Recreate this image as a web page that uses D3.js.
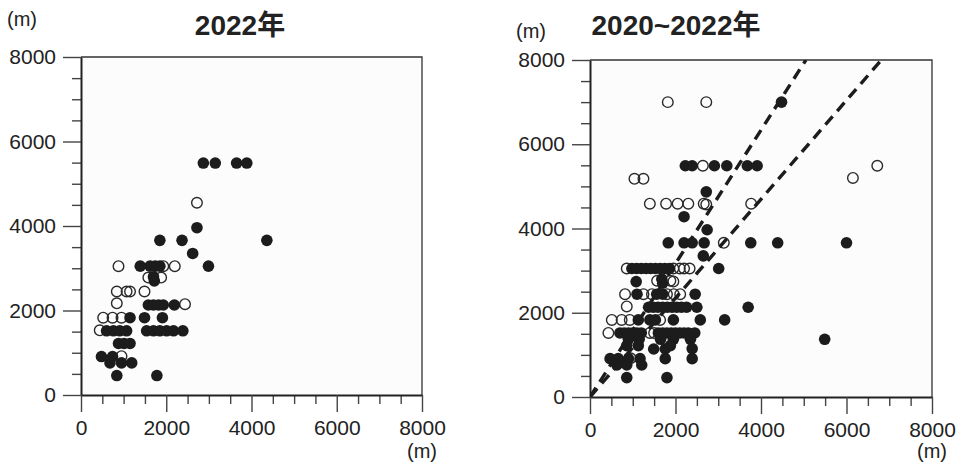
<!DOCTYPE html>
<html lang="ja">
<head>
<meta charset="UTF-8">
<title>2022年 / 2020~2022年</title>
<script src="https://d3js.org/d3.v7.min.js"></script>
<style>
  body { margin: 0; background: #fff; }
  svg text { font-family: "Liberation Sans", Arial, "Noto Sans CJK JP", sans-serif; fill: #222; }
  .title { font-weight: bold; font-size: 28px; }
  .tick text { font-size: 21px; fill: #222; }
  .unit { font-size: 20px; }
</style>
</head>
<body>
<svg id="chart" width="960" height="467"></svg>
<script>
// axis values
const xTicks = [0, 2000, 4000, 6000, 8000];
const yTicks = [0, 2000, 4000, 6000, 8000];
const minorTicks = d3.range(0, 8001, 500).filter(v => v % 2000 !== 0);
const unitLabel = "(m)";
const titles = ["2022年", "2020~2022年"];

// 2022 only : [x, y]
const leftFilled = [
  [2870, 5490], [3150, 5490], [3650, 5490], [3890, 5490],
  [2720, 3960],
  [1850, 3660], [2370, 3660], [4360, 3660],
  [2620, 3350],
  [1390, 3050], [1620, 3050], [1740, 3050], [1850, 3050], [2990, 3050],
  [1700, 2800], [1720, 2700],
  [1580, 2130], [1700, 2130], [1820, 2130], [1930, 2130], [2190, 2130],
  [1150, 1830], [1490, 1830], [1910, 1830],
  [600, 1520], [760, 1520], [910, 1520], [1070, 1520], [1540, 1520], [1700, 1520],
  [1850, 1520], [2010, 1520], [2170, 1520], [2390, 1520],
  [880, 1220], [1010, 1220], [1150, 1220],
  [480, 910], [740, 910],
  [680, 760], [950, 760], [1190, 760],
  [840, 460], [1780, 460]
];
const leftOpen = [
  [2720, 4550],
  [880, 3050], [1930, 3050], [2200, 3050],
  [1580, 2780], [1880, 2780],
  [840, 2450], [1070, 2450], [1150, 2450], [1490, 2450],
  [840, 2170], [2440, 2150],
  [520, 1830], [740, 1830], [950, 1830],
  [440, 1530],
  [950, 920]
];

// 2020~2022
const rightFilled = [
  [4480, 7000],
  [2230, 5490], [2390, 5490], [2910, 5490], [3200, 5490], [3680, 5490], [3910, 5490],
  [2720, 4870],
  [2200, 4280],
  [2740, 3970],
  [1830, 3660], [2200, 3660], [2390, 3660], [2670, 3660], [3760, 3660], [4390, 3660], [6000, 3660],
  [2650, 3350],
  [980, 3050], [1090, 3050], [1200, 3050], [1310, 3050], [1420, 3050], [1530, 3050],
  [1640, 3050], [1750, 3050], [1860, 3050], [3010, 3050],
  [1080, 2740], [1680, 2800], [1700, 2700],
  [1100, 2440], [1560, 2440], [1700, 2440], [2460, 2440],
  [1370, 2130], [1480, 2130], [1590, 2130], [1700, 2130], [1810, 2130], [1920, 2130],
  [2030, 2130], [2140, 2130], [2260, 2130], [2500, 2130], [3700, 2130],
  [1130, 1830], [1400, 1830], [1530, 1830], [1950, 1830], [2580, 1830], [3150, 1830],
  [700, 1520], [800, 1520], [900, 1520], [1000, 1520], [1100, 1520], [1200, 1520],
  [1600, 1520], [1700, 1520], [1800, 1520], [1900, 1520], [2000, 1520], [2100, 1520],
  [2200, 1520], [2300, 1520], [2450, 1520],
  [900, 1370], [1150, 1370], [1650, 1370], [1950, 1370], [2350, 1370], [5490, 1370],
  [860, 1220], [1130, 1220], [1490, 1140], [1760, 1140], [1880, 1220], [2390, 1150],
  [470, 910], [660, 910], [900, 910], [1170, 910], [1760, 910], [2390, 910],
  [630, 760], [860, 760], [1210, 760],
  [860, 460], [1800, 460]
];
const rightOpen = [
  [1820, 7000], [2720, 7000],
  [2640, 5490], [6720, 5490],
  [6150, 5200],
  [1040, 5180], [1250, 5180],
  [1400, 4590], [1780, 4590], [2050, 4590], [2300, 4590], [2660, 4590], [2720, 4570], [3770, 4590],
  [3130, 3660],
  [860, 3050], [1950, 3050], [2100, 3050], [2200, 3050], [2330, 3050],
  [1570, 2760], [1880, 2760], [1950, 2740],
  [820, 2440], [1250, 2440], [1450, 2440], [1800, 2440], [1960, 2440], [2110, 2440],
  [860, 2150],
  [510, 1830], [740, 1830], [930, 1830], [1640, 1830],
  [430, 1520], [1400, 1520], [1500, 1520],
  [950, 920]
];

// dashed reference lines from the origin to these end points
const guideEnds = [[5050, 8000], [6815, 8000]];

const panels = [
  { title: titles[0], filled: leftFilled, open: leftOpen, lines: [],
    x0: 81, x1: 422, yb: 395, yt: 57, titleX: 240, titleY: 35, unitY: 26 },
  { title: titles[1], filled: rightFilled, open: rightOpen, lines: guideEnds,
    x0: 590, x1: 932, yb: 397, yt: 60, titleX: 676, titleY: 35, unitY: 38 }
];

const svg = d3.select("#chart");

panels.forEach((p, i) => {
  const x = d3.scaleLinear().domain([0, 8000]).range([p.x0, p.x1]);
  const y = d3.scaleLinear().domain([0, 8000]).range([p.yb, p.yt]);
  const g = svg.append("g");

  // plot background + frame (top / right)
  g.append("rect")
    .attr("x", p.x0).attr("y", p.yt)
    .attr("width", p.x1 - p.x0).attr("height", p.yb - p.yt)
    .attr("fill", "#fcfcfc");
  g.append("path")
    .attr("d", `M${p.x0},${p.yt}H${p.x1}V${p.yb}`)
    .attr("fill", "none").attr("stroke", "#333").attr("stroke-width", 1.3);

  // minor ticks
  g.append("g").attr("transform", `translate(${p.x0},0)`)
    .call(d3.axisLeft(y).tickValues(minorTicks).tickSize(9).tickFormat(""))
    .call(a => a.select(".domain").remove());
  g.append("g").attr("transform", `translate(0,${p.yb})`)
    .call(d3.axisBottom(x).tickValues(minorTicks).tickSize(9).tickFormat(""))
    .call(a => a.select(".domain").remove());

  // major ticks + labels
  g.append("g").attr("transform", `translate(${p.x0},0)`)
    .call(d3.axisLeft(y).tickValues(yTicks).tickSize(18).tickSizeOuter(0).tickPadding(7).tickFormat(d3.format("d")))
    .call(a => a.select(".domain").attr("stroke", "#222").attr("stroke-width", 2));
  g.append("g").attr("transform", `translate(0,${p.yb})`)
    .call(d3.axisBottom(x).tickValues(xTicks).tickSize(17).tickSizeOuter(0).tickPadding(8).tickFormat(d3.format("d")))
    .call(a => a.select(".domain").attr("stroke", "#222").attr("stroke-width", 2));

  g.selectAll(".tick line").attr("stroke", "#444").attr("stroke-width", 1.4);
  g.selectAll(".tick text").attr("font-family", null).attr("font-size", null);

  // units and title
  g.append("text").attr("class", "unit")
    .attr("x", p.x0 - 74).attr("y", p.unitY).text(unitLabel);
  g.append("text").attr("class", "unit").attr("text-anchor", "middle")
    .attr("x", x(8000)).attr("y", 458).text(unitLabel);
  g.append("text").attr("class", "title").attr("text-anchor", "middle")
    .attr("x", p.titleX).attr("y", p.titleY).text(p.title);

  // dashed guide lines, clipped to plot
  const clipId = "clip" + i;
  svg.append("clipPath").attr("id", clipId).append("rect")
    .attr("x", p.x0).attr("y", p.yt).attr("width", p.x1 - p.x0).attr("height", p.yb - p.yt);

  // points: open first, filled on top
  g.append("g").selectAll("circle.open")
    .data(p.open).join("circle")
    .attr("cx", d => x(d[0])).attr("cy", d => y(d[1])).attr("r", 5.3)
    .attr("fill", "none").attr("stroke", "#2a2a2a").attr("stroke-width", 1.4);
  g.append("g").selectAll("circle.filled")
    .data(p.filled).join("circle")
    .attr("cx", d => x(d[0])).attr("cy", d => y(d[1])).attr("r", 5.8)
    .attr("fill", "#1c1c1c");

  const line = d3.line().x(d => x(d[0])).y(d => y(d[1]));
  g.append("g").attr("clip-path", `url(#${clipId})`)
    .selectAll("path")
    .data(p.lines.map(e => [[0, 0], e]))
    .join("path")
    .attr("d", line)
    .attr("fill", "none").attr("stroke", "#1c1c1c")
    .attr("stroke-width", 3.4).attr("stroke-dasharray", "11,7");
});
</script>
</body>
</html>
